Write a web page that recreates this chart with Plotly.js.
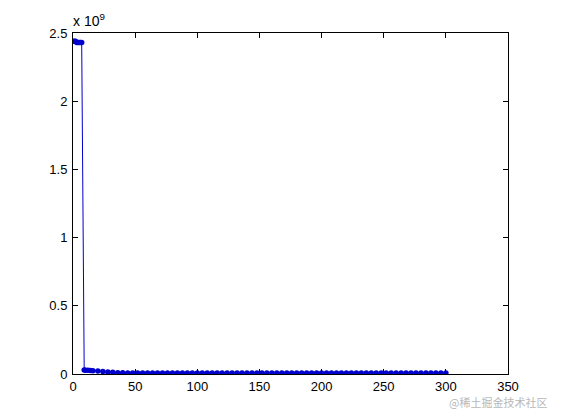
<!DOCTYPE html>
<html>
<head>
<meta charset="utf-8">
<script src="https://cdn.plot.ly/plotly-3.0.1.min.js"></script>
<style>html,body{margin:0;padding:0;background:#fff}#chart{width:561px;height:420px}</style>
</head>
<body>
<div id="chart"></div>
<script>
// x positions (iterations) and values (in units of 1e9)
const xVals = [1,2,3,4,5,6,7,9,10,12,14,16,20,24,28,32,36,40,44,48,52,56,60,64,68,72,76,80,84,88,92,96,100,104,108,112,116,120,124,128,132,136,140,144,148,152,156,160,164,168,172,176,180,184,188,192,196,200,204,208,212,216,220,224,228,232,236,240,244,248,252,256,260,264,268,272,276,280,284,288,292,296,300];
const yVals = [2.44,2.44,2.43,2.43,2.43,2.43,2.43,0.03,0.028,0.027,0.026,0.024,0.022,0.018,0.014,0.012,0.01,0.009,0.008,0.008,0.008,0.008,0.008,0.008,0.008,0.008,0.008,0.008,0.008,0.008,0.008,0.008,0.008,0.008,0.008,0.008,0.008,0.008,0.008,0.008,0.008,0.008,0.008,0.008,0.008,0.008,0.008,0.008,0.008,0.008,0.008,0.008,0.008,0.008,0.008,0.008,0.008,0.008,0.008,0.008,0.008,0.008,0.008,0.008,0.008,0.008,0.008,0.008,0.008,0.008,0.008,0.008,0.008,0.008,0.008,0.008,0.008,0.008,0.008,0.008,0.008,0.008,0.008];
const yScaled = yVals.map(v => v * 1e9);
const xTicks = [0,50,100,150,200,250,300,350];
const yTicks = [0,0.5e9,1e9,1.5e9,2e9,2.5e9];
const yTickText = ['0','0.5','1','1.5','2','2.5'];
const exponentLabel = 'x 10<sup>9</sup>';
const watermark = '@稀土掘金技术社区';

const trace = {
  x: xVals, y: yScaled, type: 'scatter', mode: 'lines+markers',
  line: {color: 'rgb(0,0,205)', width: 1},
  marker: {color: 'rgb(0,0,205)', size: 5.5},
  cliponaxis: true
};
const axisCommon = {
  showline: true, linecolor: '#000', linewidth: 1, mirror: 'ticks',
  ticks: 'inside', ticklen: 5, tickcolor: '#000', showgrid: false, zeroline: false,
  tickfont: {family: 'Liberation Sans, Arial, sans-serif', size: 13, color: '#000'}
};
const layout = {
  width: 561, height: 420,
  margin: {l: 73, r: 53, t: 33, b: 46},
  paper_bgcolor: '#fff', plot_bgcolor: '#fff',
  showlegend: false,
  xaxis: Object.assign({}, axisCommon, {range: [0, 350], tickvals: xTicks, ticktext: xTicks.map(String)}),
  yaxis: Object.assign({}, axisCommon, {range: [0, 2.5e9], tickvals: yTicks, ticktext: yTickText, ticklabelstandoff: 2}),
  annotations: [
    {text: exponentLabel, xref: 'paper', yref: 'paper', x: 0, y: 1, xanchor: 'left', yanchor: 'bottom',
     yshift: 2, xshift: -2, showarrow: false, font: {family: 'Liberation Sans, Arial, sans-serif', size: 14, color: '#000'}},
    {text: watermark, xref: 'paper', yref: 'paper', x: 1, y: 0, xanchor: 'right', yanchor: 'top',
     xshift: 41, yshift: -18, showarrow: false, font: {family: 'Noto Sans CJK SC, sans-serif', size: 11, color: '#b8b8b8'}}
  ]
};
Plotly.newPlot('chart', [trace], layout, {displayModeBar: false, staticPlot: true});
</script>
</body>
</html>
